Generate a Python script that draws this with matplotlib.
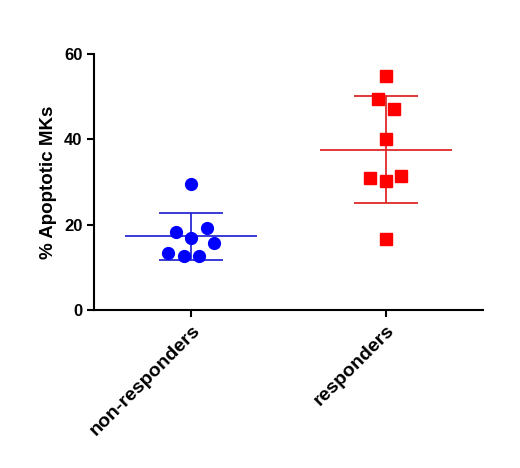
import numpy as np
import matplotlib
matplotlib.use("Agg")
import matplotlib.pyplot as plt

plt.rcParams["font.family"] = ["Liberation Sans", "DejaVu Sans"]

groups = ["non-responders", "responders"]
non_responders = [29.5, 18.3, 19.3, 16.8, 15.6, 13.3, 12.7, 12.7]
responders = [54.8, 49.4, 47.1, 40.0, 30.9, 31.4, 30.3, 16.6]
# horizontal scatter offsets of the points inside each column
non_resp_offsets = [0, -0.08, 0.08, 0, 0.117, -0.12, -0.04, 0.04]
resp_offsets = [0, -0.04, 0.04, 0, -0.08, 0.08, 0, 0]

series = [non_responders, responders]
offsets = [non_resp_offsets, resp_offsets]
marker_colors = ["#0000ff", "#ff0000"]
line_colors = ["#2a2ad6", "#e02828"]
markers = ["o", "s"]

fig = plt.figure(figsize=(5.2, 4.68), dpi=100)
ax = fig.add_axes([0.181, 0.3376, 0.748, 0.547])

for i, vals in enumerate(series):
    vals = np.array(vals)
    xs = i + np.array(offsets[i])
    ax.plot(xs, vals, linestyle="none", marker=markers[i], markersize=8.5,
            color=marker_colors[i], zorder=3)
    m = vals.mean()
    sd = vals.std(ddof=1)
    ax.hlines(m, i - 0.34, i + 0.34, color=line_colors[i], lw=1.3, zorder=2)
    ax.vlines(i, m - sd, m + sd, color=line_colors[i], lw=1.3, zorder=2)
    ax.hlines([m - sd, m + sd], i - 0.165, i + 0.165, color=line_colors[i],
              lw=1.3, zorder=2)

ax.set_xlim(-0.5, 1.5)
ax.set_ylim(0, 60)
ax.set_yticks([0, 20, 40, 60])
ax.set_xticks([0, 1])
ax.set_xticklabels(groups, rotation=45, ha="right", rotation_mode="anchor",
                   fontsize=14, fontweight="bold")
for lab in ax.get_yticklabels():
    lab.set_fontweight("bold")
    lab.set_fontsize(12)
ax.set_ylabel("% Apoptotic MKs", fontsize=13.5, fontweight="bold", labelpad=5)

for s in ["top", "right"]:
    ax.spines[s].set_visible(False)
for s in ["left", "bottom"]:
    ax.spines[s].set_linewidth(1.5)
ax.tick_params(width=1.5, length=5)

fig.savefig("out.png", dpi=100)
